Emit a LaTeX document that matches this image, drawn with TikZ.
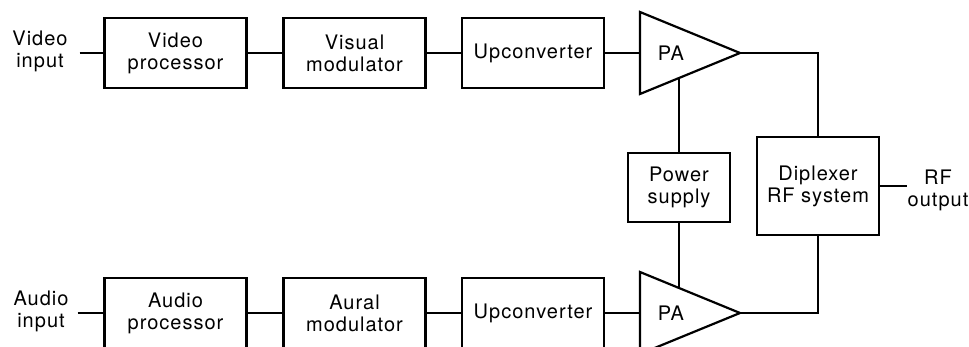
\documentclass[tikz,border=0pt]{standalone}
\usepackage{fontspec}
\setmainfont{TeX Gyre Heros}[LetterSpace=5]
\usetikzlibrary{positioning}

\def\ytop{53}
\def\ybot{313}
\def\pax{640}
\def\pal{100}
\def\pah{41}

\begin{document}
\begin{tikzpicture}[x=1pt, y=-1pt, line width=2.2pt,
    font=\fontsize{20}{22}\selectfont,
    block/.style={draw, inner sep=0pt, minimum width=142, minimum height=70, align=center},
    iolabel/.style={inner sep=0pt, align=center}]
  \useasboundingbox (0,0) rectangle (969,347);
  \clip (0,0) rectangle (969,347);

  % video chain
  \node[iolabel] (vin) at (40,51) {Video\\input};
  \node[block] (vproc) at (175.5,\ytop) {Video\\processor};
  \node[block] (vmod) at (354.5,\ytop) {Visual\\modulator};
  \node[block] (vup) at (533,\ytop) {Upconverter};

  % audio chain
  \node[iolabel] (ain) at (41,311) {Audio\\input};
  \node[block] (aproc) at (175.5,\ybot) {Audio\\processor};
  \node[block] (amod) at (354.5,\ybot) {Aural\\modulator};
  \node[block] (aup) at (533,\ybot) {Upconverter};

  % power amplifiers
  \coordinate (vpain) at (\pax,\ytop);
  \coordinate (vpaout) at (\pax+\pal,\ytop);
  \draw (\pax,\ytop-\pah) -- (vpaout) -- (\pax,\ytop+\pah) -- cycle;
  \node (vpa) at (671,\ytop) {PA};
  \coordinate (vpaps) at (679,\ytop+\pah-0.39*\pah);

  \coordinate (apain) at (\pax,\ybot);
  \coordinate (apaout) at (\pax+\pal,\ybot);
  \draw (\pax,\ybot-\pah) -- (apaout) -- (\pax,\ybot+\pah) -- cycle;
  \node (apa) at (671,\ybot) {PA};
  \coordinate (apaps) at (679,\ybot-\pah+0.39*\pah);

  % supply and combiner
  \node[block, minimum width=102, minimum height=69] (psu) at (679,187.5) {Power\\supply};
  \node[block, minimum width=122, minimum height=98] (dipx) at (818,186) {Diplexer\\RF system};
  \node[iolabel] (rfout) at (938,190) {RF\\output};

  % connections
  \draw ([xshift=11pt]vin.east |- vproc.west) -- (vproc.west);
  \draw (vproc) -- (vmod);
  \draw (vmod) -- (vup);
  \draw (vup) -- (vpain);
  \draw ([xshift=8pt]ain.east |- aproc.west) -- (aproc.west);
  \draw (aproc) -- (amod);
  \draw (amod) -- (aup);
  \draw (aup) -- (apain);
  \draw (vpaout) -| (dipx.north);
  \draw (apaout) -| (dipx.south);
  \draw (psu.north) -- (vpaps);
  \draw (psu.south) -- (apaps);
  \draw (dipx.east) -- (rfout.west |- dipx.east);
\end{tikzpicture}
\end{document}
